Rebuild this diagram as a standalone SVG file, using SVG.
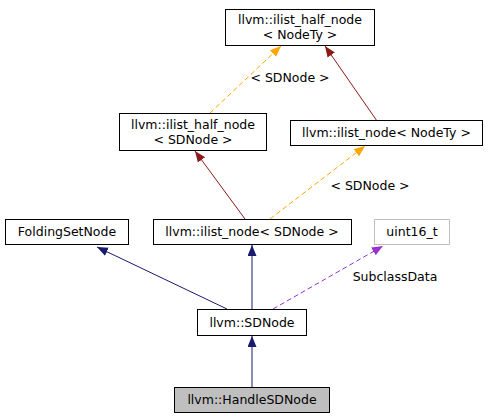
<svg xmlns="http://www.w3.org/2000/svg" width="488" height="419" viewBox="0 0 488 419">
<style>
text{font-family:"DejaVu Sans","Liberation Sans",sans-serif;font-size:12.5px;fill:#000;text-anchor:middle}
.box{fill:#fff;stroke:#000;stroke-width:1}
.grey{fill:#fff;stroke:#bfbfbf;stroke-width:1}
.cur{fill:#bfbfbf;stroke:#000;stroke-width:1}
.blue{stroke:#191970;fill:none;stroke-width:1}
.red{stroke:#8b1a1a;fill:none;stroke-width:1}
.orange{stroke:#ffa500;fill:none;stroke-width:1;stroke-dasharray:5,3}
.purple{stroke:#9a32cd;fill:none;stroke-width:1;stroke-dasharray:5,3}
</style>
<defs>
<marker id="aBlue" markerUnits="userSpaceOnUse" markerWidth="12" markerHeight="10" refX="11" refY="4.5" orient="auto"><path d="M0,0 L11,4.5 L0,9 z" fill="#191970"/></marker>
<marker id="aRed" markerUnits="userSpaceOnUse" markerWidth="12" markerHeight="10" refX="11" refY="4.5" orient="auto"><path d="M0,0 L11,4.5 L0,9 z" fill="#8b1a1a"/></marker>
<marker id="aOrange" markerUnits="userSpaceOnUse" markerWidth="12" markerHeight="10" refX="11" refY="4.5" orient="auto"><path d="M0,0 L11,4.5 L0,9 z" fill="#ffa500"/></marker>
<marker id="aPurple" markerUnits="userSpaceOnUse" markerWidth="12" markerHeight="10" refX="11" refY="4.5" orient="auto"><path d="M0,0 L11,4.5 L0,9 z" fill="#9a32cd"/></marker>
</defs>
<g id="connectors">
<path class="red" d="M377,121 L325,46" marker-end="url(#aRed)"/>
<path class="orange" d="M210,113 L281,46" marker-end="url(#aOrange)"/>
<text x="290" y="82">&lt; SDNode &gt;</text>
<path class="red" d="M245,219 L195,151" marker-end="url(#aRed)"/>
<path class="orange" d="M270,219 L365,146" marker-end="url(#aOrange)"/>
<text x="370" y="190">&lt; SDNode &gt;</text>
<path class="blue" d="M227,309 L97,247" marker-end="url(#aBlue)"/>
<path class="blue" d="M252,309 L252,245" marker-end="url(#aBlue)"/>
<path class="purple" d="M273,309 L383,246" marker-end="url(#aPurple)"/>
<text x="395" y="281">SubclassData</text>
<path class="blue" d="M252,387 L252,336" marker-end="url(#aBlue)"/>
</g>
<g id="ilist_half_node_NodeTy"><rect class="box" x="225.5" y="9.5" width="149" height="36"/><text x="300" y="24">llvm::ilist_half_node</text><text x="300" y="39">&lt; NodeTy &gt;</text></g>
<g id="ilist_half_node_SDNode"><rect class="box" x="119.5" y="113.5" width="147" height="37"/><text x="193" y="129">llvm::ilist_half_node</text><text x="193" y="144">&lt; SDNode &gt;</text></g>
<g id="ilist_node_NodeTy"><rect class="box" x="290.5" y="120.5" width="192" height="25"/><text x="386.5" y="137">llvm::ilist_node&lt; NodeTy &gt;</text></g>
<g id="FoldingSetNode"><rect class="box" x="5.5" y="219.5" width="123" height="25"/><text x="67" y="236">FoldingSetNode</text></g>
<g id="ilist_node_SDNode"><rect class="box" x="153.5" y="219.5" width="198" height="25"/><text x="252" y="236">llvm::ilist_node&lt; SDNode &gt;</text></g>
<g id="uint16_t"><rect class="grey" x="374.5" y="219.5" width="75" height="25"/><text x="412" y="236">uint16_t</text></g>
<g id="SDNode"><rect class="box" x="197.5" y="309.5" width="109" height="26"/><text x="252" y="327">llvm::SDNode</text></g>
<g id="HandleSDNode"><rect class="cur" x="174.5" y="387.5" width="155" height="25"/><text x="252" y="404">llvm::HandleSDNode</text></g>
</svg>
